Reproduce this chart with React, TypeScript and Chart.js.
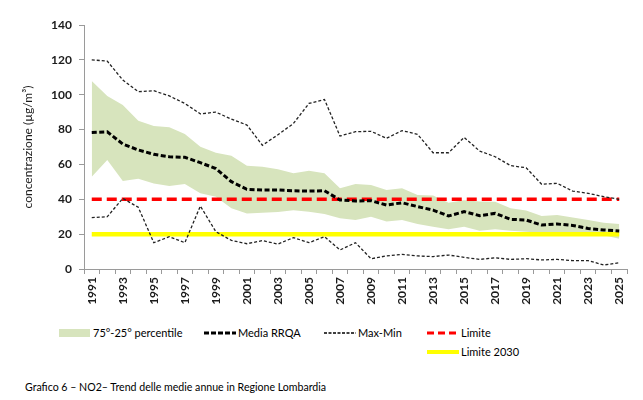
import React, { useEffect, useRef } from "react";
import { Chart, registerables } from "chart.js";

Chart.register(...registerables);

// Years on the category axis
const years = [
  "1991", "1992", "1993", "1994", "1995", "1996", "1997", "1998", "1999", "2000",
  "2001", "2002", "2003", "2004", "2005", "2006", "2007", "2008", "2009", "2010",
  "2011", "2012", "2013", "2014", "2015", "2016", "2017", "2018", "2019", "2020",
  "2021", "2022", "2023", "2024", "2025",
];

// NO2 annual averages (µg/m³)
const p75 = [
  107.9, 99.3, 94.1, 85.1, 82, 81.3, 77.5, 70.2, 66.7, 65,
  59.3, 58.7, 57.2, 54.9, 56.4, 54.9, 46.3, 48.8, 48.2, 45.3,
  46.3, 42.5, 42.2, 38, 39.4, 38.8, 38.6, 34.8, 33.5, 30.4,
  31, 29.6, 28.1, 26.6, 25.8,
];
const p25 = [
  53, 62.5, 50.5, 51.8, 49.1, 47.6, 48.8, 43.4, 41.5, 34.8,
  31.9, 32.3, 32.7, 33.7, 32.9, 31.6, 29.1, 28.1, 30, 27.3,
  28.1, 25.8, 24.3, 22.8, 24.3, 22, 22.8, 22, 21.4, 20.8,
  20.5, 20.3, 19.9, 19.3, 17.4,
];
const mediaRRQA = [
  78.3, 78.7, 71.7, 68.3, 65.8, 64.4, 64.1, 61, 57.6, 50.1,
  45.7, 45.3, 45.3, 44.9, 44.7, 44.9, 39.6, 39, 39.2, 36.7,
  38, 35.8, 33.8, 30.4, 32.9, 30.6, 31.9, 28.5, 28.1, 25.2,
  25.8, 25, 23.3, 22.4, 21.8,
];
const maxValues = [
  120, 119.3, 108.4, 101.7, 102.3, 99.3, 95, 89, 90, 86,
  82.6, 71, 77, 83.5, 95, 97.3, 76.3, 78.8, 79, 75,
  79.4, 77.3, 66.7, 66.7, 75.5, 67.7, 64.4, 59.3, 58.1, 48.6,
  49.2, 44.7, 43.4, 41.5, 40,
];
const minValues = [
  29.5, 30, 40.5, 35.4, 15.1, 18.5, 15.1, 36.1, 21.4, 16.4,
  14.5, 16.3, 14.3, 18, 15.1, 18.5, 10.9, 15.1, 5.9, 7.5,
  8.4, 7.5, 7.1, 8, 6.7, 5.5, 6.4, 5.5, 5.9, 5.2,
  5.5, 4.8, 4.8, 2.3, 3.6,
];
const LIMITE = 40;
const LIMITE_2030 = 20;

const yTicks = { min: 0, max: 140, step: 20 };

const FONT = "Lato, 'Liberation Sans', sans-serif";
const BAND = "#D7E4BD";

function Swatch({ kind }: { kind: string }) {
  return (
    <svg width={32} height={12} style={{ display: "block" }}>
      {kind === "band" && <rect x={0} y={2} width={31} height={8} fill={BAND} />}
      {kind === "mean" && (
        <line x1={0} y1={6} x2={32} y2={6} stroke="#000" strokeWidth={3} strokeDasharray="5 2" />
      )}
      {kind === "maxmin" && (
        <line x1={0} y1={6} x2={32} y2={6} stroke="#000" strokeWidth={1.3} strokeDasharray="3 1.5" />
      )}
      {kind === "limite" && (
        <line x1={0} y1={6} x2={32} y2={6} stroke="#FF0000" strokeWidth={3} strokeDasharray="7 4" />
      )}
      {kind === "limite2030" && (
        <line x1={0} y1={6} x2={32} y2={6} stroke="#FFFF00" strokeWidth={4} />
      )}
    </svg>
  );
}

function LegendItem({ x, y, kind, label }: { x: number; y: number; kind: string; label: string }) {
  return (
    <div
      style={{
        position: "absolute",
        left: x,
        top: y,
        display: "flex",
        alignItems: "center",
        gap: 2,
        fontFamily: FONT,
        fontSize: 11,
        color: "#000",
        whiteSpace: "nowrap",
        lineHeight: "12px",
      }}
    >
      <Swatch kind={kind} />
      <span>{label}</span>
    </div>
  );
}

export default function App() {
  const ref = useRef<HTMLCanvasElement>(null);

  useEffect(() => {
    const tickFont = { family: FONT, size: 12, weight: "bold" as const };
    const chart = new Chart(ref.current as HTMLCanvasElement, {
      type: "line",
      data: {
        labels: years,
        datasets: [
          {
            label: "75°-25° percentile",
            data: p75,
            borderWidth: 0,
            borderColor: BAND,
            backgroundColor: BAND,
            fill: "+1",
            order: 10,
          },
          {
            label: "p25",
            data: p25,
            borderWidth: 0,
            borderColor: BAND,
            backgroundColor: BAND,
            fill: false,
            order: 10,
          },
          {
            label: "Limite 2030",
            data: years.map(() => LIMITE_2030),
            borderColor: "#FFFF00",
            borderWidth: 4.5,
            fill: false,
            order: 6,
          },
          {
            label: "Limite",
            data: years.map(() => LIMITE),
            borderColor: "#FF0000",
            borderWidth: 3.5,
            borderDash: [10, 5],
            fill: false,
            order: 5,
          },
          {
            label: "Max-Min",
            data: maxValues,
            borderColor: "#222",
            borderWidth: 1.3,
            borderDash: [3, 2],
            fill: false,
            order: 3,
          },
          {
            label: "Min",
            data: minValues,
            borderColor: "#222",
            borderWidth: 1.3,
            borderDash: [3, 2],
            fill: false,
            order: 3,
          },
          {
            label: "Media RRQA",
            data: mediaRRQA,
            borderColor: "#000",
            borderWidth: 3,
            borderDash: [5, 2.5],
            fill: false,
            order: 1,
          },
        ],
      },
      options: {
        responsive: false,
        animation: false,
        layout: { padding: { top: 25, right: 16, left: 0, bottom: 0 } },
        elements: { point: { radius: 0 }, line: { tension: 0 } },
        plugins: { legend: { display: false }, tooltip: { enabled: false } },
        scales: {
          x: {
            type: "category",
            offset: true,
            grid: { offset: true, drawOnChartArea: false, tickLength: 5, color: "#9a9a9a" },
            border: { color: "#9a9a9a" },
            ticks: {
              autoSkip: false,
              minRotation: 90,
              maxRotation: 90,
              padding: 3,
              color: "#1c1c1c",
              font: tickFont,
              callback: (_v: any, i: number) => (i % 2 === 0 ? years[i] : ""),
            },
            afterFit: (s: any) => {
              s.height = 56;
            },
          },
          y: {
            min: yTicks.min,
            max: yTicks.max,
            grid: { drawOnChartArea: false, tickLength: 5, color: "#9a9a9a" },
            border: { color: "#9a9a9a" },
            ticks: { stepSize: yTicks.step, padding: 7, color: "#1c1c1c", font: tickFont },
            title: {
              display: true,
              text: "concentrazione (µg/m³)",
              color: "#1c1c1c",
              font: { family: FONT, size: 12 },
              padding: { top: 21, bottom: 0 },
            },
            afterFit: (s: any) => {
              s.width = 84;
            },
          },
        },
      },
    });
    return () => chart.destroy();
  }, []);

  return (
    <div style={{ position: "absolute", left: 0, top: 0, width: 643, height: 400, background: "#fff" }}>
      <canvas ref={ref} width={643} height={325} style={{ position: "absolute", left: 0, top: 0 }} />
      <LegendItem x={59} y={327} kind="band" label="75°-25° percentile" />
      <LegendItem x={204} y={327} kind="mean" label="Media RRQA" />
      <LegendItem x={324} y={327} kind="maxmin" label="Max-Min" />
      <LegendItem x={427} y={327} kind="limite" label="Limite" />
      <LegendItem x={427} y={346} kind="limite2030" label="Limite 2030" />
      <div
        style={{
          position: "absolute",
          left: 25,
          top: 381,
          fontFamily: FONT,
          fontSize: 10.6,
          color: "#000",
          whiteSpace: "nowrap",
          lineHeight: "13px",
        }}
      >
        Grafico 6 – NO2– Trend delle medie annue in Regione Lombardia
      </div>
    </div>
  );
}
